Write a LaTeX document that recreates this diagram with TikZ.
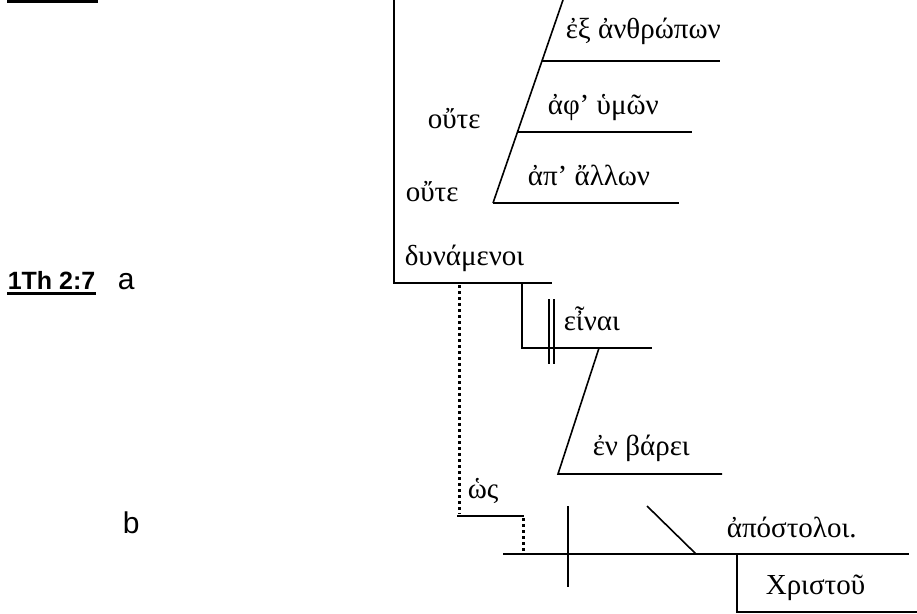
\documentclass[tikz,border=0pt]{standalone}
\usepackage{fontspec}
\setmainfont{Liberation Sans}
\newfontfamily\gk{Liberation Serif}
\begin{document}
\begin{tikzpicture}[x=1pt,y=-1pt,line width=1.6pt,
  gtext/.style={anchor=base west,inner sep=0pt,font=\gk\fontsize{29}{29}\selectfont},
  lbl/.style={anchor=base west,inner sep=0pt,font=\fontsize{30}{30}\selectfont},
  reflbl/.style={anchor=base west,inner sep=0pt,font=\bfseries\fontsize{25}{25}\selectfont},
  dotline/.style={dash pattern=on 3pt off 3pt,line width=3pt}]
\useasboundingbox (0,0) rectangle (917,613);
% cut-off underline at top
\draw[line width=3pt] (7,1.5) -- (98,1.5);
% labels
\node[reflbl] (ref) at (7,289) {1Th 2:7};
\draw[line width=3pt] ([yshift=-4pt]ref.base west) -- ([yshift=-4pt]ref.base east);
\node[lbl] (la) at (117,289) {a};
\node[lbl] (lb) at (122,533) {b};
% coordinates
\coordinate (top) at (394,0);
\coordinate (dbl) at (394,283);
\coordinate (dbr) at (552,283);
\coordinate (ptop) at (563,0);
\coordinate (pbot) at (493,203);
% texts
\node[gtext] (ex) at (565,38) {ἐξ ἀνθρώπων};
\node[gtext] (aph) at (547,114) {ἀφ’ ὑμῶν};
\node[gtext] (ap) at (527,185) {ἀπ’ ἄλλων};
\node[gtext] (oute1) at (427,128) {οὔτε};
\node[gtext] (oute2) at (405,201) {οὔτε};
\node[gtext] (dyn) at (404,265) {δυνάμενοι};
\node[gtext] (einai) at (563,330) {εἶναι};
\node[gtext] (enb) at (592,455) {ἐν βάρει};
\node[gtext] (hos) at (467,498) {ὡς};
\node[gtext] (apost) at (726,537) {ἀπόστολοι.};
\node[gtext] (xr) at (765,594) {Χριστοῦ};
% main verb line
\draw (top) -- (dbl) -- (dbr);
% prepositional slant and lines
\draw (ptop) -- (pbot);
\draw (542,61) -- (720,61);
\draw (518,132) -- (692,132);
\draw (pbot) -- (679,203);
% infinitive
\draw (522,283) -- (522,348) -- (652,348);
\draw (549,299) -- (549,364);
\draw (554,299) -- (554,364);
\draw (599,348) -- (558,474) -- (722,474);
% hos connection
\draw[dotline] (459,285) -- (459,514);
\draw (457,516) -- (524,516);
\draw[dotline] (523,518) -- (523,552);
% apostles line
\draw (503,554) -- (909,554);
\draw (568,506) -- (568,587);
\draw (647,506) -- (696,554);
\draw (737,554) -- (737,612) -- (917,612);
\end{tikzpicture}
\end{document}
